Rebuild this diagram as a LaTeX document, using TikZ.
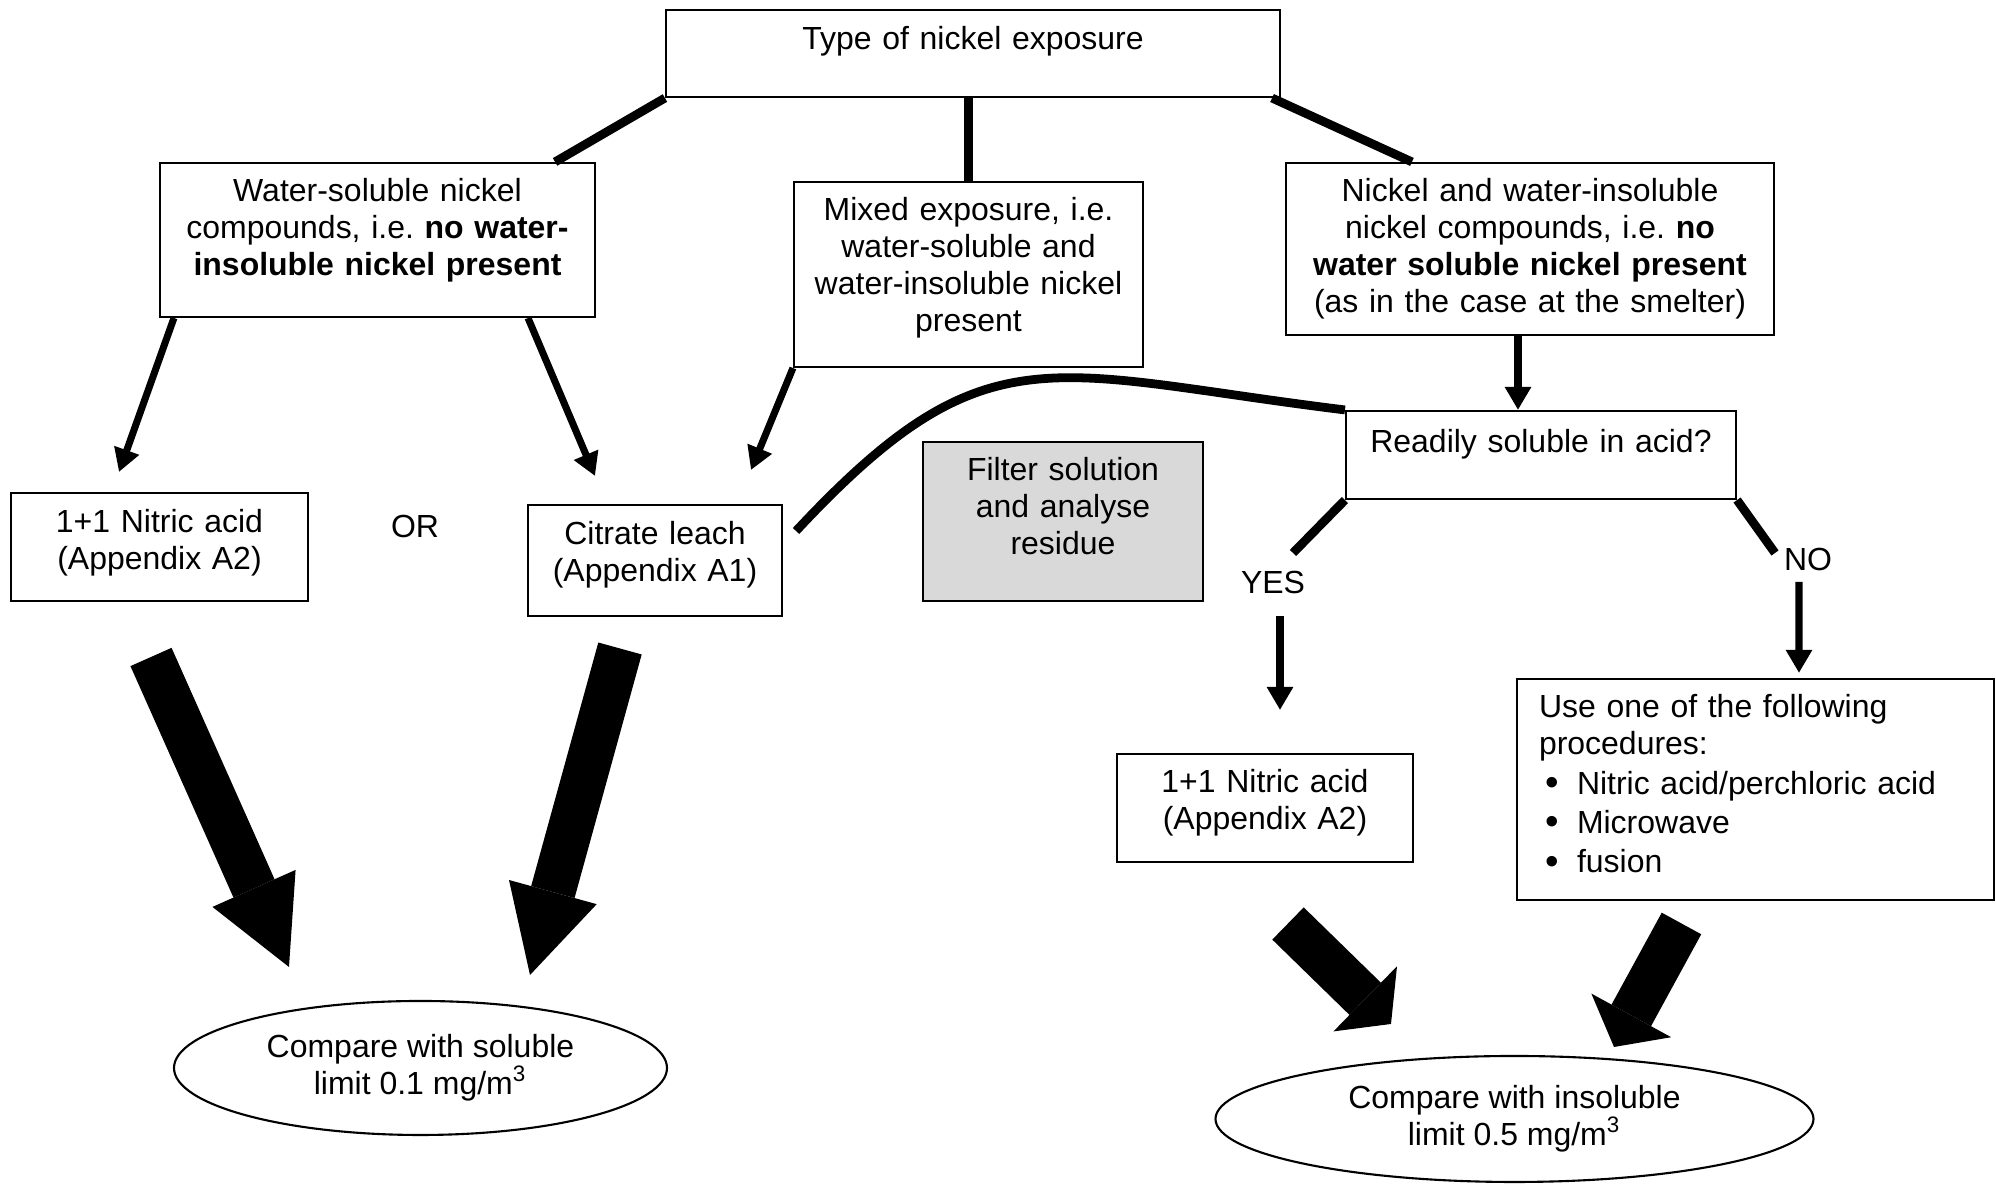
\documentclass[tikz,border=0pt]{standalone}
\usepackage{fontspec}
\setmainfont{Liberation Sans}
\usepackage{tikz}
\usetikzlibrary{arrows.meta,shapes.geometric}
\definecolor{ink}{HTML}{000000}
\definecolor{shade}{HTML}{D9D9D9}
\newcommand{\procitem}[1]{\hspace*{0.06cm}\makebox[0.32cm][l]{\raisebox{-0.3pt}[0pt][0pt]{\fontsize{11}{10.5}\selectfont\textbullet}}#1}

\begin{document}
\begin{tikzpicture}[font=\fontsize{9.1}{10.5}\selectfont\frenchspacing,
  box/.style={draw=ink,line width=0.6pt,inner xsep=0.1cm,inner ysep=0pt,text height=0.39cm,align=center},
  shadebox/.style={box,fill=shade},
  oval/.style={ellipse,draw=ink,line width=0.6pt,inner sep=0pt,align=center},
  branch/.style={line width=2.5pt,color=ink},
  ar/.style={-{Triangle[length=2.3mm,width=2.5mm]},line width=2pt,color=ink},
  fat/.style={-{Triangle[length=8.6mm,width=9.1mm,line width=0pt]},line width=4.5mm,color=ink},
  fatflat/.style={-{Triangle[length=3.6mm,width=9.1mm,line width=0pt]},line width=4.5mm,color=ink}]
  \useasboundingbox (0,0) rectangle (19.96,11.84);
  % page 19.96 x 11.84 ; first text line sits 0.39cm under each box top
  \node[box,text width=5.94cm,text height=0.40cm,text depth=0.47cm] (expo) at (9.73,11.305) {Type of nickel exposure};
  \node[box,text width=4.15cm,text depth=1.15cm] (water) at (3.775,9.44)
       {Water-soluble nickel\\compounds, i.e. \textbf{no water-}\\\textbf{insoluble nickel present}};
  \node[box,text width=3.29cm,text depth=1.46cm] (mixed) at (9.685,9.095)
       {Mixed exposure, i.e.\\water-soluble and\\water-insoluble nickel\\present};
  \node[box,text width=4.68cm,text depth=1.33cm] (nick) at (15.30,9.35)
       {Nickel and water-insoluble\\nickel compounds, i.e. \textbf{no}\\\textbf{water soluble nickel present}\\(as in the case at the smelter)};
  \node[box,text width=3.70cm,text height=0.42cm,text depth=0.46cm] (acid) at (15.41,7.29) {Readily soluble in acid?};
  \node[box,text width=2.77cm,text height=0.40cm,text depth=0.68cm] (nitl) at (1.595,6.37) {1+1 Nitric acid\\(Appendix A2)};
  \node[box,text width=2.34cm,text height=0.40cm,text depth=0.71cm] (cit) at (6.55,6.235) {Citrate leach\\(Appendix A1)};
  \node[shadebox,text width=2.60cm,text depth=1.20cm] (filt) at (10.63,6.625) {Filter solution\\and analyse\\residue};
  \node[box,text width=2.76cm,text depth=0.69cm] (nitr) at (12.65,3.76) {1+1 Nitric acid\\(Appendix A2)};
  \node[box,align=left,inner xsep=0.22cm,text width=4.33cm,text depth=1.82cm] (use) at (17.555,3.945)
       {Use one of the following\\procedures:\\[0.7pt]
        \procitem{Nitric acid/perchloric acid}\\[0.7pt]
        \procitem{Microwave}\\[0.7pt]
        \procitem{fusion}};
  \node[oval,minimum width=4.93cm,minimum height=1.34cm] (cmpl) at (4.205,1.16)
       {Compare with soluble\\limit 0.1 mg/m\textsuperscript{3}};
  \node[oval,minimum width=5.98cm,minimum height=1.26cm] (cmpr) at (15.145,0.65)
       {Compare with insoluble\\limit 0.5 mg/m\textsuperscript{3}};
  \node (or)  at (4.15,6.57)  {OR};
  \node (yes) at (12.73,6.01) {YES};
  \node (no)  at (18.08,6.24) {NO};
  % free ends of connectors
  \coordinate (tipnl)  at (1.19,7.12);
  \coordinate (tipcw)  at (5.95,7.08);
  \coordinate (tipcm)  at (7.51,7.14);
  \coordinate (yesend) at (12.93,6.31);
  \coordinate (noend)  at (17.75,6.31);
  \coordinate (yestop) at (12.80,5.68);
  \coordinate (yesbot) at (12.80,4.74);
  \coordinate (nostart) at (17.99,6.02);
  \coordinate (fl1a) at (1.51,5.27);   \coordinate (fl1b) at (2.89,2.17);
  \coordinate (fl2a) at (6.20,5.355);  \coordinate (fl2b) at (5.30,2.09);
  \coordinate (fr1a) at (12.88,2.605); \coordinate (fr1b) at (13.91,1.60);
  \coordinate (fr2a) at (16.815,2.605);\coordinate (fr2b) at (16.14,1.37);
  % branches out of the exposure box
  \draw[branch] (expo.south west) -- ([xshift=-0.41cm]water.north east);
  \draw[branch] (mixed.north |- expo.south) -- (mixed.north);
  \draw[branch] ([xshift=-0.09cm]expo.south east) -- ([xshift=1.27cm]nick.north west);
  % thin arrows
  \draw[ar] ([xshift=0.15cm]water.south west) -- (tipnl);
  \draw[ar] ([xshift=-0.68cm]water.south east) -- (tipcw);
  \draw[ar] (mixed.south west) -- (tipcm);
  \draw[ar] ([xshift=-0.12cm]nick.south) -- ([xshift=-0.23cm]acid.north);
  \draw[ar] (yestop) -- (yesbot);
  \draw[ar,shorten >=0.05cm] (nostart) -- ([xshift=0.435cm]use.north);
  % citrate leach joins the acid question
  \draw[branch] ([xshift=0.13cm,yshift=0.295cm]cit.east) .. controls +(47:2.8) and +(173:3) .. (acid.north west);
  \draw[branch] (acid.south west) -- (yesend);
  \draw[branch] (acid.south east) -- (noend);
  % block arrows to the limits
  \draw[fat] (fl1a) -- (fl1b);
  \draw[fat] (fl2a) -- (fl2b);
  \draw[fatflat] (fr1a) -- (fr1b);
  \draw[fatflat] (fr2a) -- (fr2b);
\end{tikzpicture}
\end{document}
